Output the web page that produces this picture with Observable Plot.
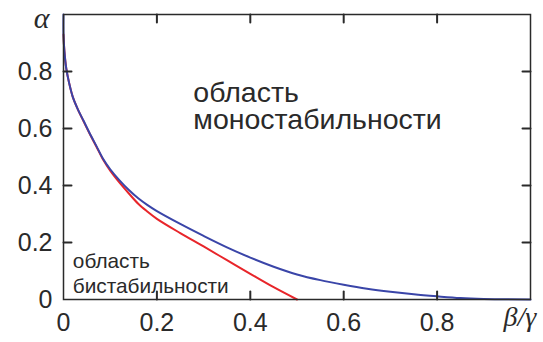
<!DOCTYPE html>
<html>
<head>
<meta charset="utf-8">
<script src="https://cdn.jsdelivr.net/npm/d3@7"></script>
<script src="https://cdn.jsdelivr.net/npm/@observablehq/plot@0.6"></script>
<style>
  html, body { margin: 0; padding: 0; background: #fff; }
  #chart svg { display: block; }
</style>
</head>
<body>
<div id="chart"></div>
<script>
// Blue curve: boundary of the monostability region
const blueX = [0, 0, 0.002, 0.006, 0.012, 0.02, 0.03, 0.043, 0.055, 0.07, 0.085, 0.1, 0.12, 0.14, 0.16, 0.18, 0.2, 0.25, 0.3, 0.35, 0.4, 0.45, 0.5, 0.55, 0.6, 0.65, 0.7, 0.75, 0.8, 0.85, 0.9, 1.0];
const blueY = [1.0, 0.93, 0.87, 0.81, 0.76, 0.71, 0.67, 0.627, 0.587, 0.54, 0.493, 0.457, 0.418, 0.384, 0.355, 0.331, 0.31, 0.265, 0.223, 0.183, 0.147, 0.115, 0.088, 0.068, 0.052, 0.038, 0.027, 0.018, 0.011, 0.005, 0.002, 0];
// Red curve
const redX = [0, 0.002, 0.006, 0.012, 0.02, 0.03, 0.043, 0.055, 0.07, 0.085, 0.1, 0.12, 0.14, 0.16, 0.18, 0.2, 0.25, 0.3, 0.35, 0.4, 0.45, 0.5];
const redY = [0.93, 0.87, 0.81, 0.76, 0.71, 0.67, 0.625, 0.585, 0.538, 0.49, 0.452, 0.41, 0.372, 0.336, 0.308, 0.283, 0.233, 0.186, 0.138, 0.09, 0.043, 0];
// Tick positions and labels
const xTicks = [0, 0.2, 0.4, 0.6, 0.8];
const yTicks = [0, 0.2, 0.4, 0.6, 0.8];
const innerTicks = [0.2, 0.4, 0.6, 0.8];
const monoLabel = "область\nмоностабильности";
const biLabel = "область\nбистабильности";
const yLabel = "α";
const xLabel = "β/γ";

const blue = blueX.map((x, i) => ({x, y: blueY[i]}));
const red = redX.map((x, i) => ({x, y: redY[i]}));

const W = 543, H = 342, mL = 63, mR = 13, mT = 14, mB = 43;
const tickLen = 8;

const ink = "#2a2a2a";
const sans = "'Liberation Sans', Arial, sans-serif";
const serif = "'Liberation Serif', 'Times New Roman', serif";

// plain straight tick shape for the vector mark (no arrowhead)
const tickShape = {draw(context, l) { context.moveTo(0, 0); context.lineTo(0, -l); }};
const tickOpts = {length: tickLen, anchor: "start", shape: tickShape, stroke: ink, strokeWidth: 2};

const chart = Plot.plot({
  width: W,
  height: H,
  marginLeft: mL,
  marginRight: mR,
  marginTop: mT,
  marginBottom: mB,
  style: {fontFamily: sans, color: ink, background: "#fff"},
  x: {domain: [0, 1], axis: null},
  y: {domain: [0, 1], axis: null},
  marks: [
    // tick labels
    Plot.axisX(xTicks, {anchor: "bottom", tickSize: 0, tickPadding: 14, tickFormat: d => String(d), label: null, fontSize: 25, fill: ink}),
    Plot.axisY(yTicks, {anchor: "left", tickSize: 0, tickPadding: 11, tickFormat: d => String(d), label: null, fontSize: 25, fill: ink}),
    // curves
    Plot.line(red, {x: "x", y: "y", stroke: "#e8252a", strokeWidth: 2, curve: "catmull-rom"}),
    Plot.line(blue, {x: "x", y: "y", stroke: "#3a45a8", strokeWidth: 2, curve: "catmull-rom"}),
    Plot.frame({stroke: ink, strokeWidth: 1.5}),
    // inward ticks on all four sides
    Plot.vector(innerTicks, {x: d => d, frameAnchor: "bottom", rotate: 0, ...tickOpts}),
    Plot.vector(innerTicks, {x: d => d, frameAnchor: "top", rotate: 180, ...tickOpts}),
    Plot.vector(innerTicks, {y: d => d, frameAnchor: "left", rotate: 90, ...tickOpts}),
    Plot.vector(innerTicks, {y: d => d, frameAnchor: "right", rotate: -90, ...tickOpts}),
    // region annotations
    Plot.text([monoLabel], {x: 0.278, y: 0.6, text: d => d, textAnchor: "start", lineAnchor: "bottom", lineHeight: 0.94, fontSize: 28.5, fill: ink}),
    Plot.text([biLabel], {x: 0.02, y: 0.024, text: d => d, textAnchor: "start", lineAnchor: "bottom", lineHeight: 1.2, fontSize: 20.8, fill: ink}),
    // axis labels
    Plot.text([yLabel], {frameAnchor: "top-left", text: d => d, textAnchor: "middle", lineAnchor: "bottom", dx: -22, dy: 13, fontSize: 30, fontStyle: "italic", fontFamily: serif, fill: ink}),
    Plot.text([xLabel], {frameAnchor: "bottom-right", text: d => d, textAnchor: "start", lineAnchor: "bottom", dx: -27, dy: 26, fontSize: 28, fontStyle: "italic", fontFamily: serif, fill: ink})
  ]
});
document.getElementById("chart").appendChild(chart);
</script>
</body>
</html>
